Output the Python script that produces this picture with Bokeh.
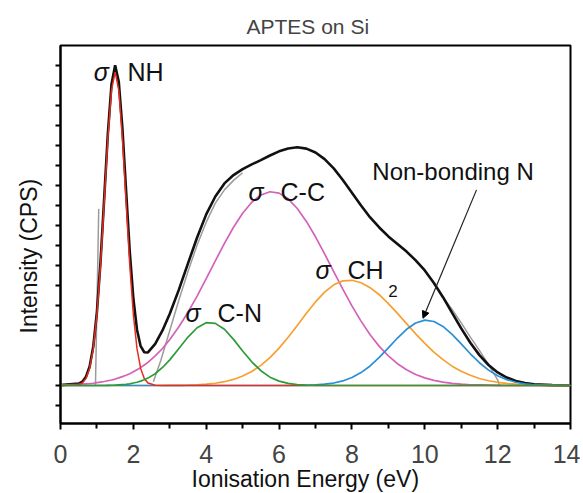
from bokeh.plotting import figure
from bokeh.models import FixedTicker, Range1d, Arrow, NormalHead, Title
from bokeh.core.properties import value
from bokeh.embed import file_html
from bokeh.resources import INLINE

# ---------------- data ----------------
energy = [0, 0.5, 0.6, 0.7, 0.8, 0.9, 1.0, 1.1, 1.2, 1.3, 1.4, 1.5, 1.6, 1.7, 1.8, 1.9,
          2.0, 2.1, 2.2, 2.3, 2.4, 2.6, 2.8,
          3.0, 3.25, 3.5, 3.75, 4.0, 4.25, 4.5, 4.75, 5.0, 5.25, 5.5, 5.75, 6.0, 6.25,
          6.5, 6.75, 7.0, 7.25, 7.5, 7.75, 8.0, 8.25, 8.5, 8.75, 9.0, 9.25, 9.5, 9.75,
          10.0, 10.25, 10.5, 10.75, 11.0, 11.25, 11.5, 11.75, 12.0, 12.25, 12.5, 12.75,
          13.0, 13.5, 14.0]

sigma_nh = [0, 0.04, 0.13, 0.37, 0.90, 1.94, 3.73, 6.37, 9.67, 13.0, 15.55, 16.5, 15.55,
            13.0, 9.67, 6.37, 3.73, 1.94, 0.90, 0.37, 0.13, 0.01, 0] + [0] * 43

sigma_cn = [0, 0, 0, 0, 0, 0, 0, 0, 0, 0.01, 0.015, 0.02, 0.035, 0.05, 0.065, 0.09,
            0.13, 0.17, 0.23, 0.30, 0.39, 0.62, 0.95,
            1.35, 1.95, 2.55, 3.04, 3.31, 3.27, 2.96, 2.43, 1.82, 1.25, 0.78, 0.44, 0.23,
            0.11, 0.05, 0.02, 0.01] + [0] * 26

sigma_cc = [0.02, 0.06, 0.07, 0.09, 0.10, 0.12, 0.15, 0.18, 0.21, 0.25, 0.29, 0.34, 0.40,
            0.47, 0.54, 0.62, 0.72, 0.83, 0.94, 1.08, 1.22, 1.56, 1.95,
            2.42, 3.09, 3.86, 4.71, 5.63, 6.56, 7.48, 8.33, 9.07, 9.65, 10.03, 10.2, 10.13,
            9.83, 9.32, 8.64, 7.83, 6.93, 6.00, 5.07, 4.19, 3.39, 2.67, 2.06, 1.56, 1.15,
            0.83, 0.58, 0.40, 0.27, 0.18, 0.11, 0.07, 0.04, 0.03, 0.02, 0.01, 0, 0, 0,
            0, 0, 0]

sigma_ch2 = [0] * 23 + [0.01, 0.01, 0.02, 0.04, 0.07, 0.12, 0.20, 0.32, 0.50, 0.74,
                        1.06, 1.47, 1.97, 2.54, 3.16, 3.80, 4.40, 4.92, 5.30, 5.51,
                        5.54, 5.41, 5.15, 4.78, 4.31, 3.80, 3.26, 2.72, 2.22, 1.76,
                        1.36, 1.02, 0.75, 0.54, 0.37, 0.25, 0.17, 0.11, 0.07, 0.04,
                        0.02, 0.01, 0]

non_bonding_n = [0] * 23 + [0] * 14 + [0.01, 0.01, 0.03, 0.07, 0.13, 0.24, 0.42, 0.68,
                                       1.03, 1.48, 1.98, 2.50, 2.96, 3.29, 3.44, 3.37,
                                       3.11, 2.69, 2.19, 1.67, 1.20, 0.81, 0.51, 0.31,
                                       0.17, 0.09, 0.04, 0.01, 0]

# measured spectrum (grey), visible where it departs from the fit
data_a_x = [0.96, 1.05]
data_a_y = [0.0, 9.3]
data_b_x = [2.55, 2.75, 3.0, 3.25, 3.5, 3.75, 4.0, 4.25, 4.5, 4.75, 5.0]
data_b_y = [0.2, 1.3, 2.9, 4.5, 6.0, 7.4, 8.6, 9.6, 10.3, 10.8, 11.2]
data_c_x = [10.5, 10.75, 11.0, 11.25, 11.5, 11.75, 12.0, 12.05]
data_c_y = [4.65, 4.0, 3.3, 2.55, 1.85, 1.1, 0.3, 0.0]

x_ticks = [0, 2, 4, 6, 8, 10, 12, 14]
x_minor = [1, 3, 5, 7, 9, 11, 13]

# fit envelope = sum of the components
envelope = [a + b + c + d + e for a, b, c, d, e in
            zip(sigma_nh, sigma_cn, sigma_cc, sigma_ch2, non_bonding_n)]

# ---------------- figure ----------------
FONT = "Liberation Sans"
TICK_STEP = 1.053  # unlabelled intensity ticks

p = figure(frame_width=510, frame_height=378,
           x_range=Range1d(0, 14), y_range=Range1d(-2.0, 17 * TICK_STEP),
           output_backend="svg", toolbar_location=None,
           min_border_left=60, min_border_right=10, min_border_top=45, min_border_bottom=70,
           background_fill_color="white", border_fill_color="white")

p.title.text = "APTES on Si"
p.title.text_font = FONT
p.title.text_font_size = "21px"
p.title.text_font_style = "normal"
p.title.align = "left"
p.title.offset = 186
p.title.standoff = 15

p.xgrid.grid_line_color = None
p.ygrid.grid_line_color = None
p.outline_line_color = "black"
p.outline_line_width = 2
p.outline_line_alpha = 1

xa = p.xaxis[0]
xa.ticker = FixedTicker(ticks=x_ticks, minor_ticks=x_minor)
xa.major_label_text_font = FONT
xa.major_label_text_font_size = "25px"
xa.major_label_standoff = 15
xa.axis_line_width = 2
xa.major_tick_line_width = 2
xa.minor_tick_line_width = 2
xa.major_tick_in = 0
xa.major_tick_out = 6
xa.minor_tick_in = 0
xa.minor_tick_out = 5

ya = p.yaxis[0]
ya.ticker = FixedTicker(ticks=[], minor_ticks=[k * TICK_STEP for k in range(-2, 17)])
ya.axis_line_width = 2
ya.minor_tick_line_width = 2
ya.minor_tick_in = 0
ya.minor_tick_out = 5
ya.major_tick_out = 5

# axis titles, placed as in the reference
p.add_layout(Title(text="Ionisation Energy (eV)", text_font=FONT, text_font_size="23px",
                   text_font_style="normal", align="left", offset=131,
                   vertical_align="bottom", standoff=-4, text_color="#111111"), "below")
p.add_layout(Title(text="Intensity (CPS)", text_font=FONT, text_font_size="23px",
                   text_font_style="normal", align="left", offset=90,
                   vertical_align="top", standoff=24, text_color="#111111"), "left")

GREY = "#9c9c9c"
p.line(data_a_x, data_a_y, line_color=GREY, line_width=1.5)
p.line(data_b_x, data_b_y, line_color=GREY, line_width=1.5)
p.line(data_c_x, data_c_y, line_color=GREY, line_width=1.5)

p.line(energy, envelope, line_color="#111111", line_width=2.6)
p.line(energy, sigma_cc, line_color="#d462b8", line_width=1.7)
p.line(energy, sigma_ch2, line_color="#f5a131", line_width=1.7)
p.line(energy, non_bonding_n, line_color="#2b8fd6", line_width=1.7)
p.line(energy, sigma_nh, line_color="#e42d20", line_width=1.5)
p.line(energy, sigma_cn, line_color="#2e9b3b", line_width=1.7)

# labels
sig_x = [0.91, 5.16, 3.43, 7.0]
sig_y = [16.5, 10.2, 3.81, 6.08]
name_x = [1.84, 6.04, 4.31, 7.88]
name_t = ["NH", "C-C", "C-N", "CH"]
p.text(x=sig_x, y=sig_y, text=["σ"] * 4, text_font=value(FONT), text_font_size="25px",
       text_font_style="italic", text_baseline="alphabetic", text_color="#111111")
p.text(x=name_x, y=sig_y, text=name_t, text_font=value(FONT), text_font_size="25px",
       text_baseline="alphabetic", text_color="#111111")
p.text(x=[9.0], y=[5.0], text=["2"], text_font=value(FONT), text_font_size="17px",
       text_baseline="alphabetic", text_color="#111111")
p.text(x=[8.56], y=[11.27], text=["Non-bonding N"], text_font=value(FONT),
       text_font_size="24px", text_baseline="alphabetic", text_color="#111111")

# arrow to the non-bonding N component peak
i_peak = non_bonding_n.index(max(non_bonding_n))
p.add_layout(Arrow(end=NormalHead(size=7, fill_color="black", line_color="black"),
                   x_start=11.42, y_start=10.3,
                   x_end=energy[i_peak] - 0.05, y_end=non_bonding_n[i_peak] + 0.1,
                   line_color="#222222", line_width=1.2))

open("out.html", "w").write(file_html(p, INLINE))
